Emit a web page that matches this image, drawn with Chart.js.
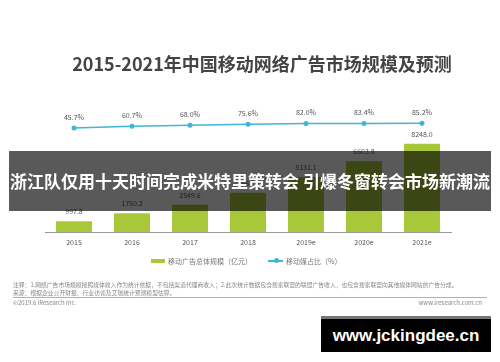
<!DOCTYPE html>
<html>
<head>
<meta charset="utf-8">
<script src="https://cdn.jsdelivr.net/npm/chart.js@4/dist/chart.umd.min.js"></script>
<style>
html,body{margin:0;padding:0;background:#fff;width:500px;height:362px;overflow:hidden;font-family:"Noto Sans CJK SC","Noto Sans",sans-serif;}
#wrap{position:absolute;left:0;top:0;width:500px;height:260px;}
.abs{position:absolute;white-space:nowrap;}
#title{left:0;width:524px;top:50px;text-align:center;font-size:18px;font-weight:700;color:#444;line-height:26px;}
#band{left:9px;top:151px;width:482px;height:60px;background:rgba(0,0,0,0.65);color:#fff;font-weight:700;font-size:17px;line-height:60px;text-align:center;z-index:5;}
.leg{font-size:7px;color:#777;line-height:10px;}
.note{font-size:5.8px;color:#888;line-height:8px;left:13px;}
#rule{left:13px;top:297px;width:474px;height:1px;background:#b0b0b0;}
#wm{left:321px;top:316px;width:170px;height:36px;background:#000;border-top:3px solid #777;box-sizing:border-box;color:#fff;font-family:"Liberation Sans",Arial,sans-serif;font-weight:700;font-size:17px;line-height:33px;text-align:center;z-index:6;}
</style>
</head>
<body>
<div id="wrap"><canvas id="c" width="500" height="260"></canvas></div>
<div id="title" class="abs">2015-2021年中国移动网络广告市场规模及预测</div>
<div id="band" class="abs">浙江队仅用十天时间完成米特里策转会 引爆冬窗转会市场新潮流</div>
<div class="abs" style="left:151px;top:259px;width:14px;height:4px;background:#a8c83a;"></div>
<div class="abs leg" style="left:168px;top:256px;">移动广告总体规模（亿元）</div>
<div class="abs" style="left:268px;top:260px;width:15px;height:1.5px;background:#3fb6d8;"></div>
<div class="abs" style="left:273.5px;top:258px;width:5px;height:5px;border-radius:50%;background:#3fb6d8;"></div>
<div class="abs leg" style="left:286px;top:256px;">移动媒占比（%）</div>
<div class="abs note" style="top:281px;">注释：1.网络广告市场规模按照媒体收入作为统计依据，不包括渠道代理商收入；2.此次统计数据包含搜索联盟的联盟广告收入，也包含搜索联盟向其他媒体网站的广告分成。</div>
<div class="abs note" style="top:289px;">来源：根据企业公开财报、行业访谈及艾瑞统计预测模型估算。</div>
<div id="rule" class="abs"></div>
<div class="abs note" style="top:299px;font-size:6px;">©2019.6 iResearch Inc.</div>
<div class="abs note" style="top:299px;left:auto;right:18px;font-size:6px;">www.iresearch.com.cn</div>
<div id="wm" class="abs">www.jckingdee.cn</div>
<script>
const categories = ["2015","2016","2017","2018","2019e","2020e","2021e"];
const marketSize = [997.8, 1750.2, 2549.6, 3663.0, 5131.1, 6603.8, 8248.0];
const mobileShare = [45.7, 60.7, 68.0, 75.6, 82.0, 83.4, 85.2];
const sizeLabels = ["997.8","1750.2","2549.6","3663.0","5131.1","6603.8","8248.0"];
const shareLabels = ["45.7%","60.7%","68.0%","75.6%","82.0%","83.4%","85.2%"];

const labelPlugin = {
  id: 'valueLabels',
  afterDatasetsDraw(chart) {
    const ctx = chart.ctx;
    ctx.save();
    ctx.font = '7px "Noto Sans CJK SC", "Noto Sans", sans-serif';
    ctx.fillStyle = '#555';
    ctx.textAlign = 'center';
    ctx.textBaseline = 'middle';
    const barMeta = chart.getDatasetMeta(0);
    barMeta.data.forEach((el, i) => { ctx.fillText(sizeLabels[i], el.x, el.y - 9.5); });
    const lineMeta = chart.getDatasetMeta(1);
    lineMeta.data.forEach((el, i) => { ctx.fillText(shareLabels[i], el.x, el.y - 11); });
    ctx.restore();
  }
};

new Chart(document.getElementById('c'), {
  data: {
    labels: categories,
    datasets: [
      { type: 'bar', label: '移动广告总体规模（亿元）', data: marketSize, backgroundColor: '#a8c83a', yAxisID: 'y', order: 2, barPercentage: 0.62, categoryPercentage: 1.0 },
      { type: 'line', label: '移动媒占比（%）', data: mobileShare, borderColor: '#3fb6d8', backgroundColor: '#3fb6d8', borderWidth: 1.5, pointRadius: 2.5, pointBackgroundColor: '#3fb6d8', pointBorderWidth: 0, yAxisID: 'y1', order: 1, tension: 0 }
    ]
  },
  options: {
    responsive: false,
    animation: false,
    devicePixelRatio: 1,
    layout: { padding: { left: 45, right: 49, top: 100, bottom: 7.6 } },
    plugins: { legend: { display: false }, tooltip: { enabled: false }, title: { display: false } },
    scales: {
      x: {
        grid: { display: false, drawTicks: false, tickLength: 0 },
        border: { display: true, color: '#9a9a9a', width: 1 },
        ticks: { color: '#555', font: { size: 7, family: '"Noto Sans CJK SC", "Noto Sans", sans-serif' }, padding: 6, maxRotation: 0 }
      },
      y: { display: false, min: 0, max: 12326 },
      y1: { display: false, min: -792, max: 272 }
    }
  },
  plugins: [labelPlugin]
});
</script>
</body>
</html>
